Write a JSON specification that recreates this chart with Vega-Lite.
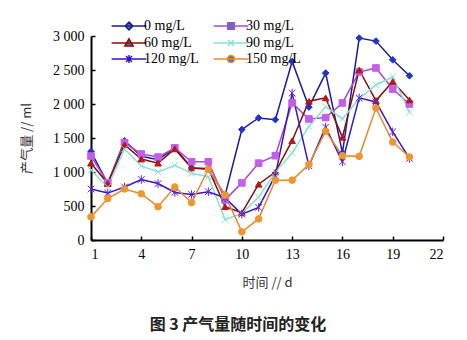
{
  "$schema": "https://vega.github.io/schema/vega-lite/v6.json",
  "width": 352,
  "height": 204,
  "autosize": "none",
  "padding": {"left": 91, "top": 36, "right": 24, "bottom": 100},
  "background": "white",
  "title": {"text": "图 3    产气量随时间的变化", "orient": "bottom", "offset": 28, "dx": -29, "font": "Noto Sans CJK SC", "fontSize": 16, "fontWeight": "bold", "color": "#222"},
  "config": {
    "view": {"stroke": null},
    "axis": {"grid": false, "domainColor": "black", "domainWidth": 2, "tickColor": "black", "tickWidth": 1.5, "tickSize": -4, "labelFont": "Liberation Serif", "labelFontSize": 14, "labelColor": "black", "titleFont": "Noto Sans CJK SC", "titleFontSize": 13, "titleFontWeight": "normal", "titleColor": "#333"}
  },
  "data": {"values": [
    {"day":1,"series":"0 mg/L","value":1300},{"day":2,"series":"0 mg/L","value":830},{"day":3,"series":"0 mg/L","value":1460},{"day":4,"series":"0 mg/L","value":1230},{"day":5,"series":"0 mg/L","value":1180},{"day":6,"series":"0 mg/L","value":1360},{"day":7,"series":"0 mg/L","value":1060},{"day":8,"series":"0 mg/L","value":1040},{"day":9,"series":"0 mg/L","value":660},{"day":10,"series":"0 mg/L","value":1625},{"day":11,"series":"0 mg/L","value":1795},{"day":12,"series":"0 mg/L","value":1770},{"day":13,"series":"0 mg/L","value":2625},{"day":14,"series":"0 mg/L","value":1955},{"day":15,"series":"0 mg/L","value":2455},{"day":16,"series":"0 mg/L","value":1280},{"day":17,"series":"0 mg/L","value":2970},{"day":18,"series":"0 mg/L","value":2925},{"day":19,"series":"0 mg/L","value":2650},{"day":20,"series":"0 mg/L","value":2415},
    {"day":1,"series":"30 mg/L","value":1235},{"day":2,"series":"30 mg/L","value":840},{"day":3,"series":"30 mg/L","value":1430},{"day":4,"series":"30 mg/L","value":1265},{"day":5,"series":"30 mg/L","value":1220},{"day":6,"series":"30 mg/L","value":1355},{"day":7,"series":"30 mg/L","value":1150},{"day":8,"series":"30 mg/L","value":1150},{"day":9,"series":"30 mg/L","value":590},{"day":10,"series":"30 mg/L","value":840},{"day":11,"series":"30 mg/L","value":1130},{"day":12,"series":"30 mg/L","value":1240},{"day":13,"series":"30 mg/L","value":2015},{"day":14,"series":"30 mg/L","value":1780},{"day":15,"series":"30 mg/L","value":1800},{"day":16,"series":"30 mg/L","value":2015},{"day":17,"series":"30 mg/L","value":2470},{"day":18,"series":"30 mg/L","value":2530},{"day":19,"series":"30 mg/L","value":2220},{"day":20,"series":"30 mg/L","value":2000},
    {"day":1,"series":"60 mg/L","value":1130},{"day":2,"series":"60 mg/L","value":830},{"day":3,"series":"60 mg/L","value":1400},{"day":4,"series":"60 mg/L","value":1190},{"day":5,"series":"60 mg/L","value":1130},{"day":6,"series":"60 mg/L","value":1340},{"day":7,"series":"60 mg/L","value":1060},{"day":8,"series":"60 mg/L","value":1050},{"day":9,"series":"60 mg/L","value":490},{"day":10,"series":"60 mg/L","value":400},{"day":11,"series":"60 mg/L","value":820},{"day":12,"series":"60 mg/L","value":1000},{"day":13,"series":"60 mg/L","value":1460},{"day":14,"series":"60 mg/L","value":2040},{"day":15,"series":"60 mg/L","value":2090},{"day":16,"series":"60 mg/L","value":1510},{"day":17,"series":"60 mg/L","value":2500},{"day":18,"series":"60 mg/L","value":2050},{"day":19,"series":"60 mg/L","value":2330},{"day":20,"series":"60 mg/L","value":2060},
    {"day":1,"series":"90 mg/L","value":1030},{"day":2,"series":"90 mg/L","value":780},{"day":3,"series":"90 mg/L","value":1340},{"day":4,"series":"90 mg/L","value":1090},{"day":5,"series":"90 mg/L","value":1000},{"day":6,"series":"90 mg/L","value":1100},{"day":7,"series":"90 mg/L","value":980},{"day":8,"series":"90 mg/L","value":930},{"day":9,"series":"90 mg/L","value":300},{"day":10,"series":"90 mg/L","value":390},{"day":11,"series":"90 mg/L","value":630},{"day":12,"series":"90 mg/L","value":1000},{"day":13,"series":"90 mg/L","value":1280},{"day":14,"series":"90 mg/L","value":1670},{"day":15,"series":"90 mg/L","value":1960},{"day":16,"series":"90 mg/L","value":1780},{"day":17,"series":"90 mg/L","value":2080},{"day":18,"series":"90 mg/L","value":2280},{"day":19,"series":"90 mg/L","value":2400},{"day":20,"series":"90 mg/L","value":1880},
    {"day":1,"series":"120 mg/L","value":750},{"day":2,"series":"120 mg/L","value":690},{"day":3,"series":"120 mg/L","value":780},{"day":4,"series":"120 mg/L","value":890},{"day":5,"series":"120 mg/L","value":830},{"day":6,"series":"120 mg/L","value":700},{"day":7,"series":"120 mg/L","value":670},{"day":8,"series":"120 mg/L","value":710},{"day":9,"series":"120 mg/L","value":620},{"day":10,"series":"120 mg/L","value":380},{"day":11,"series":"120 mg/L","value":480},{"day":12,"series":"120 mg/L","value":950},{"day":13,"series":"120 mg/L","value":2160},{"day":14,"series":"120 mg/L","value":1090},{"day":15,"series":"120 mg/L","value":1660},{"day":16,"series":"120 mg/L","value":1150},{"day":17,"series":"120 mg/L","value":2090},{"day":18,"series":"120 mg/L","value":2030},{"day":19,"series":"120 mg/L","value":1590},{"day":20,"series":"120 mg/L","value":1200},
    {"day":1,"series":"150 mg/L","value":340},{"day":2,"series":"150 mg/L","value":610},{"day":3,"series":"150 mg/L","value":750},{"day":4,"series":"150 mg/L","value":680},{"day":5,"series":"150 mg/L","value":490},{"day":6,"series":"150 mg/L","value":780},{"day":7,"series":"150 mg/L","value":550},{"day":8,"series":"150 mg/L","value":1040},{"day":9,"series":"150 mg/L","value":660},{"day":10,"series":"150 mg/L","value":120},{"day":11,"series":"150 mg/L","value":310},{"day":12,"series":"150 mg/L","value":880},{"day":13,"series":"150 mg/L","value":880},{"day":14,"series":"150 mg/L","value":1110},{"day":15,"series":"150 mg/L","value":1600},{"day":16,"series":"150 mg/L","value":1240},{"day":17,"series":"150 mg/L","value":1230},{"day":18,"series":"150 mg/L","value":1940},{"day":19,"series":"150 mg/L","value":1440},{"day":20,"series":"150 mg/L","value":1220}
  ]},
  "encoding": {
    "x": {"field": "day", "type": "quantitative", "scale": {"domain": [1, 22], "nice": false, "zero": false}, "axis": {"values": [1,4,7,10,13,16,19,22], "title": "时间 // d", "labelPadding": 11, "titlePadding": 15}},
    "y": {"field": "value", "type": "quantitative", "scale": {"domain": [0, 3000], "nice": false}, "axis": {"values": [0,500,1000,1500,2000,2500,3000], "labelExpr": "replace(format(datum.value, ',d'), ',', ' ')", "title": "产气量 // ml", "labelPadding": 11, "titlePadding": 19}}
  },
  "layer": [
    {
      "mark": {"type": "line", "strokeWidth": 1.5},
      "encoding": {
        "color": {"field": "series", "type": "nominal", "legend": null, "scale": {"domain": ["0 mg/L","30 mg/L","60 mg/L","90 mg/L","120 mg/L","150 mg/L"], "range": ["#1a1aa0","#a64bd6","#8b0a0a","#86e3d4","#3a14c0","#e8892a"]}}
      }
    },
    {
      "mark": {"type": "point", "filled": true, "size": 44, "strokeWidth": 1, "opacity": 1},
      "encoding": {
        "shape": {"field": "series", "type": "nominal", "legend": null, "scale": {"domain": ["0 mg/L","30 mg/L","60 mg/L","90 mg/L","120 mg/L","150 mg/L"], "range": ["diamond","square","triangle-up","M-1,-1L1,1M-1,1L1,-1","M-1,-1L1,1M-1,1L1,-1M0,-1.3L0,1.3","circle"]}},
        "fill": {"field": "series", "type": "nominal", "legend": null, "scale": {"domain": ["0 mg/L","30 mg/L","60 mg/L","90 mg/L","120 mg/L","150 mg/L"], "range": ["#1f35c8","#c35ee8","#b51818","#86e3d4","#5a22dd","#f0962e"]}},
        "stroke": {"field": "series", "type": "nominal", "legend": null, "scale": {"domain": ["0 mg/L","30 mg/L","60 mg/L","90 mg/L","120 mg/L","150 mg/L"], "range": ["#1f35c8","#c35ee8","#b51818","#86e3d4","#5a22dd","#f0962e"]}}
      }
    },
    {
      "mark": {"type": "point", "filled": true, "opacity": 0},
      "encoding": {
        "shape": {"field": "series", "type": "nominal", "scale": {"domain": ["0 mg/L","30 mg/L","60 mg/L","90 mg/L","120 mg/L","150 mg/L"], "range": ["M-5.8,0H5.8M0,-1.3L1.3,0L0,1.3L-1.3,0Z","M-5.8,0H5.8M-1.1,-1.1H1.1V1.1H-1.1Z","M-5.8,0H5.8M0,-1.4L1.4,1L-1.4,1Z","M-5.8,0H5.8M-1,-1L1,1M-1,1L1,-1","M-5.8,0H5.8M-1,-1L1,1M-1,1L1,-1M0,-1.3L0,1.3","M-5.8,0H5.8M1.2,0A1.2,1.2,0,1,1,-1.2,0A1.2,1.2,0,1,1,1.2,0Z"]},
          "legend": {"orient": "none", "legendX": 31, "legendY": -17, "columns": 2, "direction": "horizontal", "title": null, "symbolSize": 36, "symbolStrokeWidth": 1.5, "labelFont": "Liberation Serif", "labelFontSize": 14, "labelColor": "black", "labelOffset": 8, "columnPadding": 11, "rowPadding": 2,
            "encode": {"symbols": {"update": {
              "fill": {"signal": "{'0 mg/L':'#1f35c8','30 mg/L':'#c35ee8','60 mg/L':'#b51818','90 mg/L':'#86e3d4','120 mg/L':'#5a22dd','150 mg/L':'#f0962e'}[datum.value]"},
              "stroke": {"signal": "{'0 mg/L':'#1a1aa0','30 mg/L':'#a64bd6','60 mg/L':'#8b0a0a','90 mg/L':'#86e3d4','120 mg/L':'#3a14c0','150 mg/L':'#e8892a'}[datum.value]"},
              "opacity": {"value": 1}}}}}},
        "stroke": {"field": "series", "type": "nominal", "legend": null, "scale": {"domain": ["0 mg/L","30 mg/L","60 mg/L","90 mg/L","120 mg/L","150 mg/L"], "range": ["#1a1aa0","#a64bd6","#8b0a0a","#86e3d4","#3a14c0","#e8892a"]}}
      }
    }
  ],
  "resolve": {"scale": {"shape": "independent", "fill": "independent", "stroke": "independent"}}
}
